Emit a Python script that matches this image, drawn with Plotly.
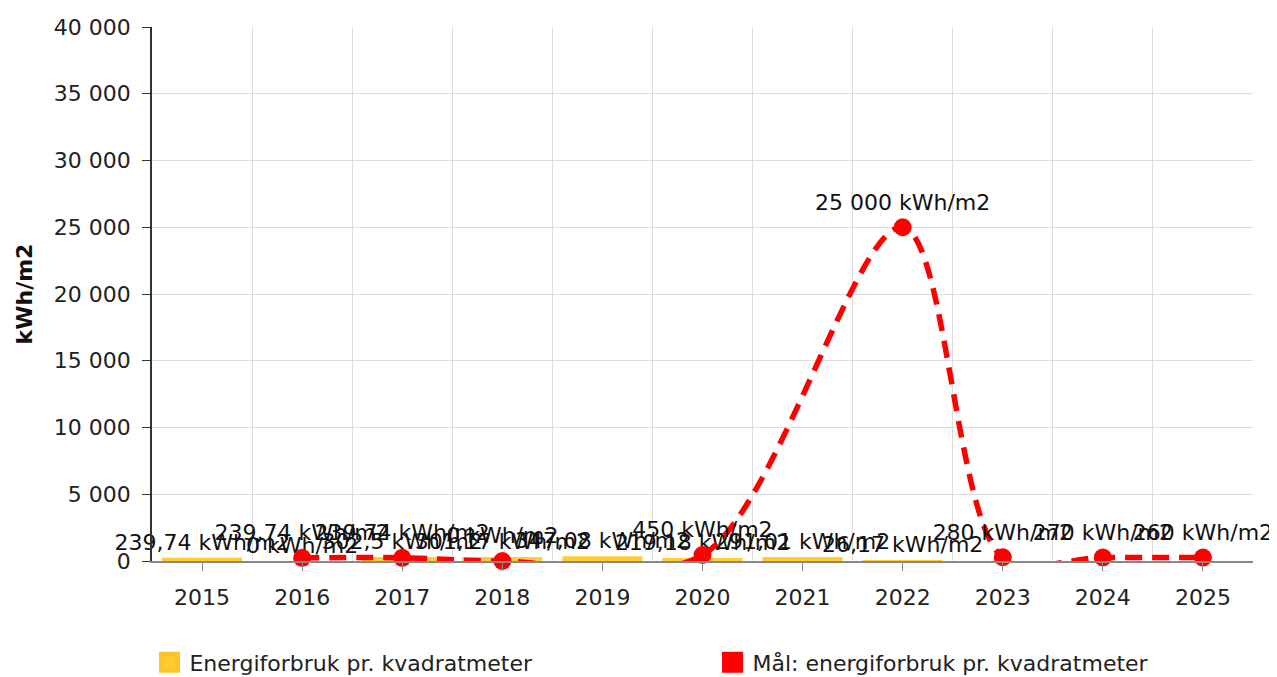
import plotly.graph_objects as go

years = ["2015", "2016", "2017", "2018", "2019", "2020", "2021", "2022", "2023", "2024", "2025"]
energy = [239.74, 0, 302.5, 301.17, 347.08, 219.18, 291.01, 26.17, None, None, None]
target = [None, 239.74, 239.74, 0, None, 450, None, 25000, 280, 270, 260]

name_energy = "Energiforbruk pr. kvadratmeter"
name_target = "Mål: energiforbruk pr. kvadratmeter"
y_title = "kWh/m2"
y_ticks = [0, 5000, 10000, 15000, 20000, 25000, 30000, 35000, 40000]

FONT = "DejaVu Sans"
FS = 22
YELLOW = "#FFCC33"
RED = "#FF0000"

fig = go.Figure()

fig.add_trace(go.Bar(
    x=years, y=energy, name=name_energy,
    marker=dict(color=YELLOW, line=dict(width=0)),
    texttemplate="%{y:,} kWh/m2", textposition="outside",
    constraintext="none", cliponaxis=False,
    textfont=dict(family=FONT, size=FS, color="#111"),
    showlegend=False, hoverinfo="x+y",
))

fig.add_trace(go.Scatter(
    x=years, y=target, name=name_target, mode="lines+markers+text",
    line=dict(color=RED, width=5.5, dash="17px,10px", shape="spline", smoothing=0.9),
    marker=dict(color=RED, size=18),
    connectgaps=True,
    texttemplate="%{y:,} kWh/m2", textposition="top center",
    textfont=dict(family=FONT, size=FS, color="#111"),
    cliponaxis=False, showlegend=False,
))

# legend-only entries (square swatches)
fig.add_trace(go.Scatter(
    x=[None], y=[None], name=name_energy, mode="markers",
    marker=dict(symbol="square", color=YELLOW, size=30, line=dict(color="#FFC526", width=5)),
))
fig.add_trace(go.Scatter(
    x=[None], y=[None], name=name_target, mode="markers",
    marker=dict(symbol="square", color=RED, size=30, line=dict(color=RED, width=5)),
))

# overlay axis carrying gridlines at category boundaries
fig.add_trace(go.Scatter(x=years, y=[None] * len(years), xaxis="x2", showlegend=False, hoverinfo="skip"))

fig.update_layout(
    template="none",
    width=1277, height=677,
    margin=dict(l=144, r=32, t=19, b=124, autoexpand=False),
    paper_bgcolor="white", plot_bgcolor="white",
    font=dict(family=FONT, size=FS, color="#222"),
    separators=", ",
    bargap=0.2,
    xaxis=dict(
        type="category", categoryorder="array", categoryarray=years,
        range=[-0.5, 10.5], showgrid=False, automargin=False,
        showline=True, linecolor="#888", linewidth=1.5,
        ticks="outside", ticklen=8, tickcolor="#888", ticklabelstandoff=8,
        tickfont=dict(size=FS, color="#222"), zeroline=False,
    ),
    xaxis2=dict(
        type="category", categoryorder="array", categoryarray=years,
        range=[-0.5, 10.5], overlaying="x", tickson="boundaries",
        showgrid=True, gridcolor="#dcdcdc", gridwidth=1, automargin=False,
        showticklabels=False, ticks="", showline=False, zeroline=False,
    ),
    yaxis=dict(
        range=[0, 40000], tickvals=y_ticks, tickformat=",", automargin=False,
        showgrid=True, gridcolor="#dcdcdc", gridwidth=1,
        showline=True, linecolor="#333", linewidth=1.5,
        ticks="outside", ticklen=8, tickcolor="#333", ticklabelstandoff=7,
        tickfont=dict(size=FS, color="#222"), zeroline=False,
        title=dict(text="<b>" + y_title + "</b>", font=dict(size=FS, color="#111"), standoff=15),
    ),
    legend=dict(
        orientation="h", x=-0.0023, xanchor="left", y=-0.19, yanchor="middle",
        font=dict(size=FS, color="#222"), entrywidth=518, entrywidthmode="pixels",
        itemsizing="trace", bgcolor="rgba(0,0,0,0)",
    ),
)

fig.write_html("out.html")
